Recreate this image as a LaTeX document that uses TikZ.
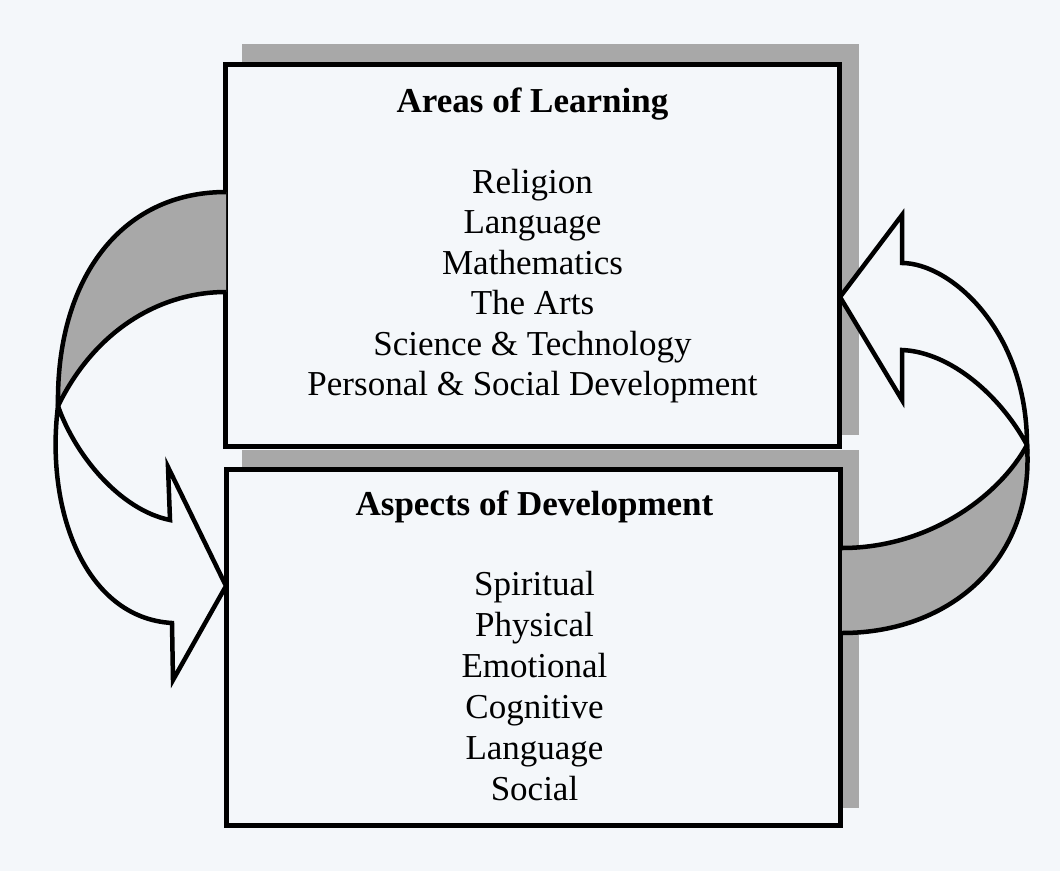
\documentclass[tikz,border=0pt]{standalone}
\usepackage{fontspec}
\setmainfont{Liberation Serif}
\definecolor{paper}{RGB}{244,247,250}
\definecolor{shade}{RGB}{168,168,168}
\tikzset{
  boxframe/.style={draw=black, line width=5pt, fill=paper},
  shadowrect/.style={fill=shade},
  ribbongray/.style={draw=black, line width=4.5pt, fill=shade},
  ribbonwhite/.style={draw=black, line width=4.5pt, fill=paper, line join=miter, miter limit=20},
  titletext/.style={anchor=base, font=\fontsize{35}{40}\selectfont\bfseries, inner sep=0pt},
  itemtext/.style={anchor=base, font=\fontsize{35}{40}\selectfont, inner sep=0pt}
}
\begin{document}
\begin{tikzpicture}[x=1pt,y=-1pt]
\useasboundingbox (0,0) rectangle (1060,871);
\fill[paper] (0,0) rectangle (1060,871);

% shadows
\fill[shadowrect] (242,44) rectangle (859,435);
\fill[shadowrect] (242,450) rectangle (859,808);

% boxes
\draw[boxframe] (225.5,64.5) rectangle (839,446);
\draw[boxframe] (226,469) rectangle (840,825);

% left ribbon arrow: grey back part
\filldraw[ribbongray] (226,192) .. controls (120,192) and (56,280) .. (58,406)
  .. controls (95,330) and (160,292) .. (226,292);
% left ribbon arrow: white front part with head
\filldraw[ribbonwhite] (58,406) .. controls (75,455) and (120,510) .. (170,520)
  -- (168,467) -- (226,586) -- (173,680) -- (172,623)
  .. controls (85,618) and (45,510) .. (58,406) -- cycle;

% right ribbon arrow: grey back part
\filldraw[ribbongray] (842,548) .. controls (930,548) and (1000,495) .. (1027,445)
  .. controls (1035,560) and (950,633) .. (842,633);
% right ribbon arrow: white front part with head
\filldraw[ribbonwhite] (840,297) -- (902,215) -- (902,263)
  .. controls (950,263) and (1027,330) .. (1027,445)
  .. controls (1000,395) and (950,352) .. (902,350)
  -- (902,400) -- cycle;

% texts
\node[titletext] (t1) at (532.5,112) {Areas of Learning};
\foreach \t [count=\i] in {Religion,Language,Mathematics,The Arts,Science \& Technology,Personal \& Social Development}
  \node[itemtext] (a\i) at (532.5,{193+40.5*(\i-1)}) {\t};

\node[titletext] (t2) at (534.5,515) {Aspects of Development};
\foreach \t [count=\i] in {Spiritual,Physical,Emotional,Cognitive,Language,Social}
  \node[itemtext] (b\i) at (534.5,{595+41*(\i-1)}) {\t};
\end{tikzpicture}
\end{document}
